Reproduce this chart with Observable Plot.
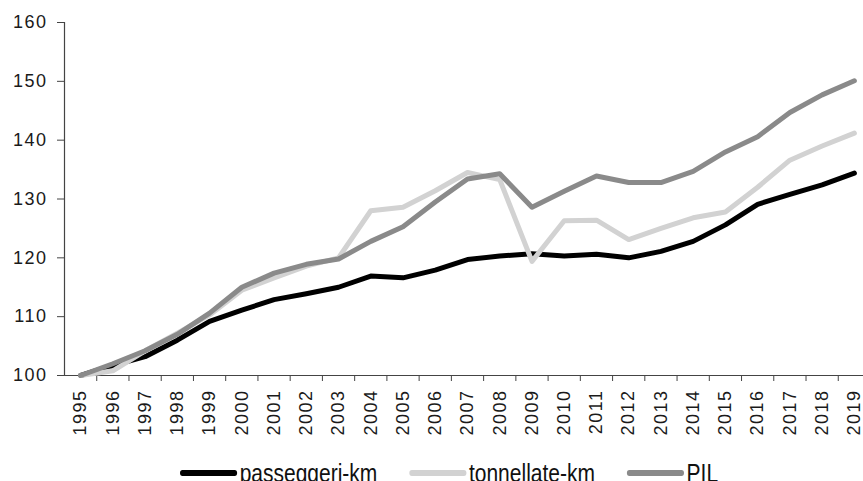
<!DOCTYPE html>
<html>
<head>
<meta charset="utf-8">
<script src="https://cdn.jsdelivr.net/npm/d3@7"></script>
<script src="https://cdn.jsdelivr.net/npm/@observablehq/plot@0.6"></script>
<style>
  html, body { margin: 0; padding: 0; background: #fff; }
  body { width: 863px; height: 481px; overflow: hidden; position: relative; }
  #chart svg text { letter-spacing: 1.5px; font-family: "Liberation Sans", Arial, sans-serif; }
  .legend { position: absolute; left: 180px; top: 458px; display: flex; align-items: center;
    transform: scaleX(0.84); transform-origin: 0 50%; white-space: nowrap;
    font-family: "Liberation Sans", Arial, sans-serif;
    font-size: 25px; line-height: 30px; color: #111; }
  .legend .item { display: flex; align-items: center; margin-right: 38px; }
  .legend .sw { width: 68px; height: 6px; border-radius: 3px; margin-right: 3px; }
</style>
</head>
<body>
<div id="chart"></div>
<script>
const years = [1995,1996,1997,1998,1999,2000,2001,2002,2003,2004,2005,2006,2007,2008,2009,2010,2011,2012,2013,2014,2015,2016,2017,2018,2019];
const passeggeri = [100,101.7,103.2,106,109.2,111.1,112.9,113.9,115,116.9,116.6,117.9,119.7,120.3,120.7,120.3,120.6,120,121.1,122.8,125.6,129.1,130.8,132.4,134.4];
const tonnellate = [100,100.8,104.2,107.2,110.3,114.5,116.6,118.6,120,128,128.6,131.4,134.5,133.3,119.4,126.3,126.4,123.1,125,126.8,127.8,132,136.6,139,141.2];
const pil = [100,102,104.2,107,110.6,115,117.4,118.9,119.8,122.8,125.3,129.5,133.4,134.3,128.6,131.3,133.9,132.8,132.8,134.7,138,140.6,144.7,147.7,150.1];
const seriesNames = ["passeggeri-km", "tonnellate-km", "PIL"];
const seriesColors = ["#000000", "#d2d2d2", "#8a8a8a"];
const yTicks = [100,110,120,130,140,150,160];

const seriesValues = [passeggeri, tonnellate, pil];
const data = seriesNames.flatMap((name, s) => years.map((year, i) => ({series: name, year, value: seriesValues[s][i]})));
const boundaries = years.slice(0, -1).map(y => y + 0.5);

const font = "'Liberation Sans', Arial, sans-serif";

const chart = Plot.plot({
  width: 863,
  height: 445,
  marginLeft: 64,
  marginRight: 0,
  marginTop: 22,
  marginBottom: 70,
  style: {fontFamily: font, background: "#fff", color: "#222"},
  x: {type: "linear", domain: [years[0] - 0.5, years[years.length - 1] + 0.5], range: [64, 870], label: null},
  y: {domain: [100, 160], label: null},
  color: {domain: seriesNames, range: seriesColors},
  marks: [
    Plot.axisY({ticks: yTicks, tickSize: 7, tickPadding: 10, fontSize: 18, stroke: "#444", fill: "#1a1a1a", label: null, tickFormat: d => String(d)}),
    Plot.axisX({ticks: boundaries, tickSize: 6, tickFormat: () => "", stroke: "#444", label: null}),
    Plot.axisX({ticks: years, tickSize: 0, tickPadding: 14, tickRotate: -90, fontSize: 18, fill: "#1a1a1a", label: null, tickFormat: d => String(d)}),
    Plot.ruleX([years[0] - 0.5], {y1: 100, y2: 160, stroke: "#444", strokeWidth: 1.2}),
    Plot.ruleY([100], {x1: years[0] - 0.5, x2: years[years.length - 1] + 0.5, stroke: "#444", strokeWidth: 1.2}),
    Plot.line(data, {x: "year", y: "value", z: "series", stroke: "series", strokeWidth: 5, strokeLinejoin: "round", strokeLinecap: "round"})
  ]
});
document.getElementById("chart").appendChild(chart);

const legend = document.createElement("div");
legend.className = "legend";
seriesNames.forEach((name, i) => {
  const item = document.createElement("div");
  item.className = "item";
  const sw = document.createElement("span");
  sw.className = "sw";
  sw.style.background = seriesColors[i];
  const label = document.createElement("span");
  label.textContent = name;
  item.appendChild(sw);
  item.appendChild(label);
  legend.appendChild(item);
});
document.body.appendChild(legend);
</script>
</body>
</html>
